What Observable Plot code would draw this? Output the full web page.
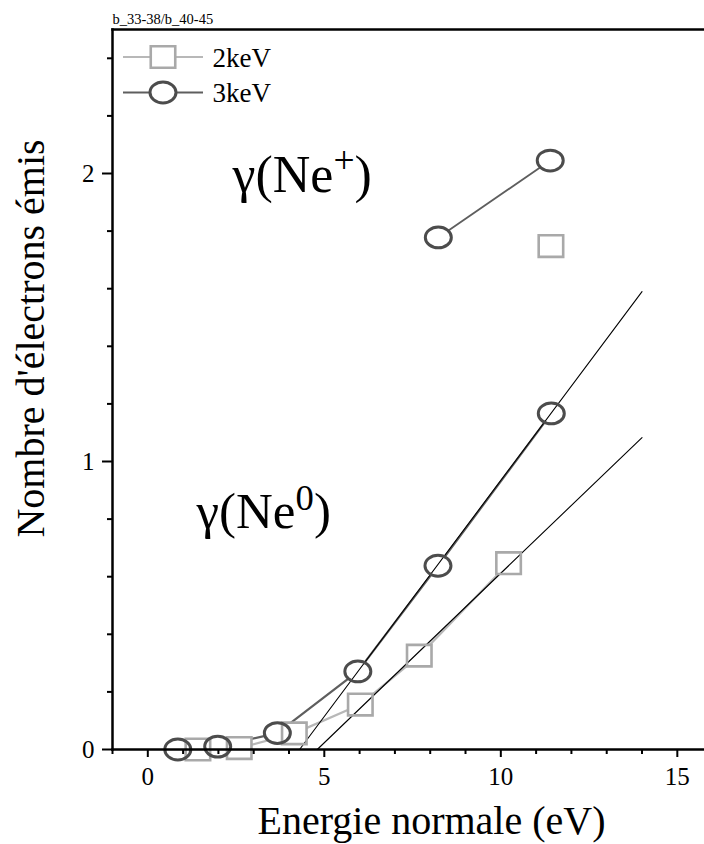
<!DOCTYPE html>
<html><head><meta charset="utf-8">
<script src="https://cdn.jsdelivr.net/npm/d3@7"></script>
<script src="https://cdn.jsdelivr.net/npm/@observablehq/plot@0.6"></script>
<style>
html,body{margin:0;padding:0;background:#fff;}
#chart svg{display:block;}
</style>
</head><body><div id="chart"></div>
<script>
// ---- texts ----
const stampText = "b_33-38/b_40-45";
const xLabel = "Energie normale (eV)";
const yLabel = "Nombre d'électrons émis";
const seriesNames = ["2keV", "3keV"];
const annoNeP = "γ(Ne+)";
const annoNe0 = "γ(Ne0)";

// ---- data: γ(Ne0) ----
const e3keVNe0 = [0.85, 1.98, 3.67, 5.95, 8.22, 11.43];
const y3keVNe0 = [0.0, 0.01, 0.057, 0.271, 0.638, 1.167];
const e2keVNe0 = [1.42, 2.59, 4.15, 6.02, 7.69, 10.22];
const y2keVNe0 = [0.0, 0.005, 0.056, 0.156, 0.326, 0.647];
// ---- data: γ(Ne+) ----
const e3keVNeP = [8.23, 11.40];
const y3keVNeP = [1.778, 2.045];
const e2keVNeP = [11.42];
const y2keVNeP = [1.748];
// ---- linear fits ----
const fit3keVx = [4.3, 14.0];
const fit3keVy = [0.0, 1.59];
const fit2keVx = [4.8, 14.0];
const fit2keVy = [0.0, 1.083];
// ---- ticks ----
const xMajor = [0, 5, 10, 15];
const xMinor = [-1, 1, 2, 3, 4, 6, 7, 8, 9, 11, 12, 13, 14];
const yMajor = [0, 1, 2];
const yMinor = [0.2, 0.4, 0.6, 0.8, 1.2, 1.4, 1.6, 1.8, 2.2, 2.4];

const rows = (xs, ys) => xs.map((x, i) => ({x, y: ys[i]}));
const d3Ne0 = rows(e3keVNe0, y3keVNe0);
const d2Ne0 = rows(e2keVNe0, y2keVNe0);
const d3NeP = rows(e3keVNeP, y3keVNeP);
const d2NeP = rows(e2keVNeP, y2keVNeP);
const all3 = d3Ne0.concat(d3NeP);
const all2 = d2Ne0.concat(d2NeP);
const fit3 = rows(fit3keVx, fit3keVy);
const fit2 = rows(fit2keVx, fit2keVy);

// ---- custom symbols ----
const ellipseSym = {draw(ctx, size) {
  const r = Math.sqrt(size / Math.PI), rx = r, ry = r * 0.8, k = 0.5523;
  ctx.moveTo(rx, 0);
  ctx.bezierCurveTo(rx, k * ry, k * rx, ry, 0, ry);
  ctx.bezierCurveTo(-k * rx, ry, -rx, k * ry, -rx, 0);
  ctx.bezierCurveTo(-rx, -k * ry, -k * rx, -ry, 0, -ry);
  ctx.bezierCurveTo(k * rx, -ry, rx, -k * ry, rx, 0);
  ctx.closePath();
}};
const rectSym = {draw(ctx, size) {
  const r = Math.sqrt(size / Math.PI), w = r, h = r * 0.88;
  ctx.moveTo(-w, -h); ctx.lineTo(w, -h); ctx.lineTo(w, h); ctx.lineTo(-w, h); ctx.closePath();
}};
const dashSym = {draw(ctx, size) {
  const r = Math.sqrt(size / Math.PI);
  ctx.moveTo(-r, 0); ctx.lineTo(r, 0);
}};

const C3 = "#4c4c4c", C3line = "#5e5e5e", C2 = "#a9a9a9", C2line = "#b8b8b8";
const font = "Liberation Serif, DejaVu Serif, serif";

const legendRow = (name, sym, col, lineCol, sw, r, dy) => [
  Plot.dot([name], {frameAnchor: "top-left", dx: 50.5, dy, symbol: dashSym, r: 40, stroke: lineCol, strokeWidth: 2, fill: "none"}),
  Plot.dot([name], {frameAnchor: "top-left", dx: 50.5, dy, symbol: sym, r, fill: "white", stroke: col, strokeWidth: sw}),
  Plot.text([name], {frameAnchor: "top-left", dx: 100, dy: dy + 1, text: d => d, textAnchor: "start", lineAnchor: "middle", fontSize: 27, fontFamily: font, fill: "black"})
];

const chart = Plot.plot({
  width: 704, height: 844,
  marginLeft: 112, marginRight: 0, marginTop: 29, marginBottom: 95,
  x: {domain: [-1, 15.77], axis: null},
  y: {domain: [0, 2.5], axis: null},
  style: {fontFamily: font, background: "white", color: "black"},
  marks: [
    // connecting lines
    Plot.line(d3Ne0, {x: "x", y: "y", stroke: C3line, strokeWidth: 2.2}),
    Plot.line(d2Ne0, {x: "x", y: "y", stroke: C2line, strokeWidth: 2.2}),
    Plot.line(d3NeP, {x: "x", y: "y", stroke: C3line, strokeWidth: 1.8}),
    // knock-out fills so connecting lines stop at marker edges
    Plot.dot(all2, {x: "x", y: "y", symbol: rectSym, r: 12.25, fill: "white", stroke: "none"}),
    Plot.dot(all3, {x: "x", y: "y", symbol: ellipseSym, r: 13, fill: "white", stroke: "none"}),
    // fits
    Plot.line(fit3, {x: "x", y: "y", stroke: "black", strokeWidth: 1.1}),
    Plot.line(fit2, {x: "x", y: "y", stroke: "black", strokeWidth: 1.1}),
    // marker outlines
    Plot.dot(all2, {x: "x", y: "y", symbol: rectSym, r: 12.25, fill: "none", stroke: C2, strokeWidth: 2.6}),
    Plot.dot(all3, {x: "x", y: "y", symbol: ellipseSym, r: 13, fill: "none", stroke: C3, strokeWidth: 3}),
    // axes
    Plot.axisX(xMajor, {tickSize: 8, tickPadding: 10, fontSize: 25, fontFamily: font, strokeWidth: 2, label: null, tickFormat: d => String(d)}),
    Plot.axisX(xMinor, {tickSize: 5, strokeWidth: 2, fill: "none", label: null}),
    Plot.axisY(yMajor, {tickSize: 10, tickPadding: 8, fontSize: 25, fontFamily: font, strokeWidth: 2, label: null, tickFormat: d => String(d)}),
    Plot.axisY(yMinor, {tickSize: 5, strokeWidth: 2, fill: "none", label: null}),
    Plot.frame({anchor: "left", strokeWidth: 2.5}),
    Plot.frame({anchor: "top", strokeWidth: 2.5}),
    Plot.frame({anchor: "bottom", strokeWidth: 2.5}),
    // axis titles
    Plot.text([xLabel], {frameAnchor: "bottom", dx: 23, dy: 72, text: d => d, textAnchor: "middle", lineAnchor: "middle", fontSize: 40, fontFamily: font, fill: "black"}),
    Plot.text([yLabel], {frameAnchor: "left", dx: -81, dy: -51, rotate: -90, text: d => d, textAnchor: "middle", lineAnchor: "middle", fontSize: 40, fontFamily: font, fill: "black"}),
    // stamp
    Plot.text([stampText], {frameAnchor: "top-left", dx: 0, dy: -10, text: d => d, textAnchor: "start", lineAnchor: "middle", fontSize: 14.5, fontFamily: font, fill: "black"}),
    // legend
    ...legendRow(seriesNames[0], rectSym, C2, C2line, 2.6, 12.25, 27.5),
    ...legendRow(seriesNames[1], ellipseSym, C3, C3line, 3, 13, 63),
    // annotations
    Plot.text([annoNeP], {x: 2.4, y: 1.995, text: d => d, textAnchor: "start", lineAnchor: "middle", fontSize: 52, fontFamily: font, fill: "black", className: "anno-plus"}),
    Plot.text([annoNe0], {x: 1.38, y: 0.825, text: d => d, textAnchor: "start", lineAnchor: "middle", fontSize: 51, fontFamily: font, fill: "black", className: "anno-zero"})
  ]
});

// superscripts in the annotations
function superscript(cls, sup) {
  d3.select(chart).selectAll(`g.${cls} text`).each(function() {
    const t = d3.select(this);
    t.text(null);
    t.append("tspan").text("γ(Ne");
    t.append("tspan").attr("dy", "-0.5em").attr("font-size", "0.72em").text(sup);
    t.append("tspan").attr("dy", "0.36em").text(")");
  });
}
superscript("anno-plus", "+");
superscript("anno-zero", "0");

document.getElementById("chart").appendChild(chart);
</script>
</body></html>
